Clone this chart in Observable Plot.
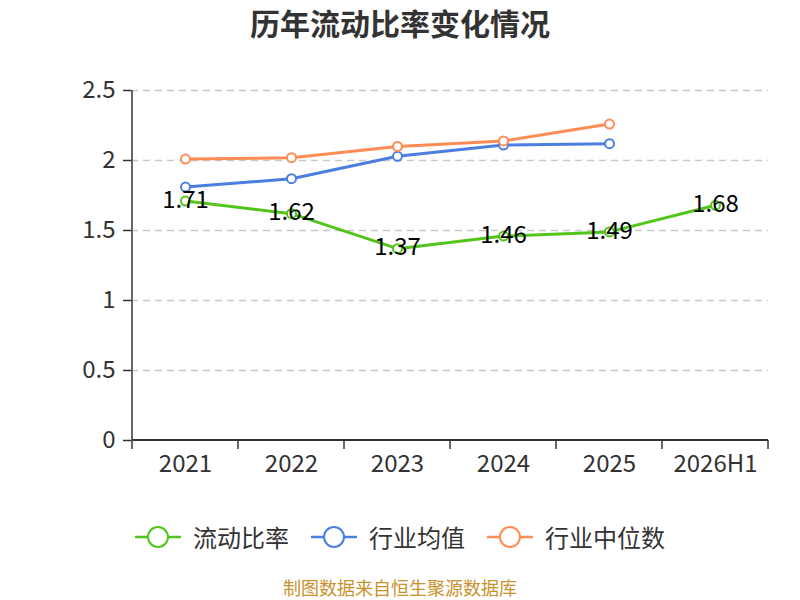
<!DOCTYPE html>
<html><head><meta charset="utf-8">
<script src="https://cdn.jsdelivr.net/npm/d3@7"></script>
<script src="https://cdn.jsdelivr.net/npm/@observablehq/plot@0.6"></script>
<style>
body{margin:0;background:#fff;font-family:"Noto Sans CJK SC","Noto Sans",sans-serif;}
#wrap{position:relative;width:800px;height:600px;overflow:hidden;}
#title{position:absolute;top:2px;left:0;width:800px;text-align:center;font-size:30px;font-weight:bold;color:#333;line-height:40px;}
#chart{position:absolute;top:0;left:0;}
#legend{position:absolute;top:519px;left:0;width:800px;display:flex;justify-content:center;align-items:center;gap:22px;font-size:24px;color:#333;line-height:36px;}
.item{display:flex;align-items:center;gap:12px;}
#caption{position:absolute;top:576px;left:0;width:800px;text-align:center;font-size:18px;color:#c9912b;line-height:22px;}
</style></head>
<body>
<div id="wrap">
  <div id="chart"></div>
  <div id="title">历年流动比率变化情况</div>
  <div id="legend"></div>
  <div id="caption">制图数据来自恒生聚源数据库</div>
</div>
<script>
const categories = ["2021","2022","2023","2024","2025","2026H1"];
const currentRatio = [1.71,1.62,1.37,1.46,1.49,1.68];
const industryMean = [1.81,1.87,2.03,2.11,2.12];
const industryMedian = [2.01,2.02,2.10,2.14,2.26];
const yTicks = [0,0.5,1,1.5,2,2.5];
const seriesNames = ["流动比率","行业均值","行业中位数"];
const seriesColors = ["#52c41a","#4a7fe0","#ff8c55"];

const rows = [];
[currentRatio, industryMean, industryMedian].forEach((vals, si) => {
  vals.forEach((v, i) => rows.push({cat: categories[i], value: v, series: seriesNames[si]}));
});
const greenRows = rows.filter(d => d.series === seriesNames[0]);

function axisFrame(index, scales, values, dimensions) {
  const x = scales.x, y = scales.y;
  const bw = typeof x.bandwidth === "function" ? x.bandwidth() : x.bandwidth;
  const x0 = x(categories[0]);
  const y0 = y(0);
  const g = d3.create("svg:g").attr("stroke", "#333").attr("fill", "none");
  g.append("line").attr("x1", x0).attr("x2", x0).attr("y1", y(2.5)).attr("y2", y0).attr("stroke-width", 1.5);
  g.append("line").attr("x1", x0).attr("x2", x(categories[categories.length-1]) + bw).attr("y1", y0).attr("y2", y0).attr("stroke-width", 2);
  const bounds = categories.map(c => x(c)).concat([x(categories[categories.length-1]) + bw]);
  bounds.forEach(b => g.append("line").attr("x1", b).attr("x2", b).attr("y1", y0).attr("y2", y0 + 9).attr("stroke-width", 1.5));
  return g.node();
}

const chart = Plot.plot({
  width: 800,
  height: 500,
  marginLeft: 131,
  marginRight: 32,
  marginTop: 90,
  marginBottom: 60,
  style: {fontFamily: '"Noto Sans CJK SC","Noto Sans",sans-serif', background: "transparent"},
  x: {type: "band", domain: categories, padding: 0},
  y: {domain: [0, 2.5]},
  color: {domain: seriesNames, range: seriesColors},
  marks: [
    Plot.gridY(yTicks.filter(d => d > 0), {stroke: "#c8c8c8", strokeOpacity: 1, strokeWidth: 1.5, strokeDasharray: "7,5"}),
    Plot.axisY({ticks: yTicks, tickSize: 8, tickPadding: 8, fontSize: 24, label: null, tickFormat: d => String(d), stroke: "#333", strokeWidth: 1.5, color: "#333"}),
    Plot.axisX({tickSize: 0, tickPadding: 14, fontSize: 24, label: null, color: "#333"}),
    axisFrame,
    Plot.line(rows, {x: "cat", y: "value", stroke: "series", strokeWidth: 3, z: "series"}),
    Plot.dot(rows, {x: "cat", y: "value", stroke: "series", fill: "white", r: 4.5, strokeWidth: 2}),
    Plot.text(greenRows, {x: "cat", y: "value", text: d => d.value.toFixed(2), fontSize: 24, fill: "#000", dy: -1})
  ]
});
document.getElementById("chart").appendChild(chart);

const legend = d3.select("#legend");
seriesNames.forEach((name, i) => {
  const it = legend.append("div").attr("class", "item");
  const s = it.append("svg").attr("width", 46).attr("height", 24);
  s.append("line").attr("x1", 0).attr("x2", 46).attr("y1", 12).attr("y2", 12).attr("stroke", seriesColors[i]).attr("stroke-width", 2.5);
  s.append("circle").attr("cx", 23).attr("cy", 12).attr("r", 10).attr("fill", "white").attr("stroke", seriesColors[i]).attr("stroke-width", 2);
  it.append("span").text(name);
});
</script>
</body></html>
